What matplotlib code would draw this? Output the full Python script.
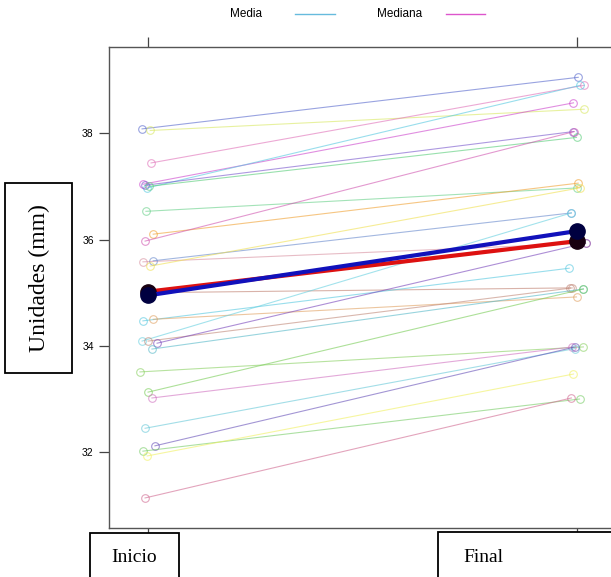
import matplotlib.pyplot as plt
from matplotlib.patches import Rectangle
from matplotlib.lines import Line2D

# ---------------------------------------------------------------------------
# Data (mm)
# ---------------------------------------------------------------------------
momentos = ["Inicio", "Final"]

inicio = [38.08, 38.05, 37.44, 37.04, 36.97, 37.02, 37.00, 36.53, 36.10, 35.97,
          35.58, 35.60, 35.50, 35.00, 34.47, 34.50, 34.09, 34.09, 34.05, 33.94,
          33.51, 33.13, 33.02, 32.45, 32.12, 32.02, 31.93, 31.14]
final = [39.05, 38.45, 38.90, 38.57, 38.90, 38.03, 37.92, 36.97, 37.06, 38.03,
         35.93, 36.50, 36.97, 35.09, 35.46, 34.92, 36.50, 35.09, 35.93, 35.07,
         33.98, 35.07, 33.98, 33.95, 33.98, 33.00, 33.47, 33.02]

# horizontal jitter of the points (fraction of the Inicio-Final distance)
jit_inicio = [-0.014, 0.005, 0.007, -0.012, -0.002, -0.007, 0.002, -0.005, 0.012, -0.007,
              -0.012, 0.012, 0.005, 0.005, -0.012, 0.012, -0.014, 0.0, 0.021, 0.009,
              -0.019, 0.0, 0.009, -0.007, 0.016, -0.012, -0.002, -0.007]
jit_final = [0.002, 0.016, 0.016, -0.009, 0.007, -0.009, -0.002, 0.0, 0.002, -0.007,
             0.019, -0.014, 0.005, -0.016, -0.019, -0.002, -0.014, -0.012, 0.019, 0.014,
             0.014, 0.014, -0.012, -0.005, -0.005, 0.005, -0.009, -0.014]

colores = ["#5566cc", "#d8e860", "#e070b8", "#cc44cc", "#55c8e0", "#7755cc", "#55cc77",
           "#66d088", "#f0a030", "#d055b0", "#d890a0", "#6688cc", "#f0e050", "#c08070",
           "#55c8e0", "#e0a060", "#66d0e0", "#c08878", "#7744bb", "#55b8c8",
           "#88d060", "#77cc55", "#d070c0", "#66c8d8", "#6650b8", "#77cc66", "#f0f060",
           "#d06890"]

media = [34.95, 36.16]
mediana = [35.02, 35.97]

yticks = [32, 34, 36, 38]

# ---------------------------------------------------------------------------
W, H = 611, 577
fig = plt.figure(figsize=(W / 100, H / 100), dpi=100)
ax = fig.add_axes([109 / W, (H - 528) / H, (616 - 109) / W, (528 - 47) / H])

for y0, y1, j0, j1, c in zip(inicio, final, jit_inicio, jit_final, colores):
    ax.plot([0 + j0, 1 + j1], [y0, y1], color=c, lw=0.8, alpha=0.6,
            marker="o", ms=5.5, mfc="none", mew=0.8, zorder=2)

ax.plot([0, 1], mediana, color="#dd1111", lw=3.0, zorder=4,
        marker="o", ms=11, mfc="#180010", mec="#180010")
ax.plot([0, 1], media, color="#1111bb", lw=3.0, zorder=5,
        marker="o", ms=11, mfc="#000040", mec="#000040")

ax.set_xlim(-0.091, 1.09)
ax.set_ylim(30.575, 39.62)
ax.set_yticks(yticks)
ax.set_yticklabels([str(t) for t in yticks], fontsize=7.5, family="Liberation Sans")
ax.set_xticks([0, 1])
ax.set_xticklabels([])
ax.tick_params(axis="both", direction="out", length=7, width=0.9, color="#444444",
               pad=4)
ax.tick_params(axis="x", top=True, bottom=True)
for s in ax.spines.values():
    s.set_color("#555555")
    s.set_linewidth(1.0)

# legend on top
fig.text(262 / W, 1 - 14 / H, "Media", ha="right", va="center", fontsize=8.5,
         family="Liberation Sans")
fig.add_artist(Line2D([295 / W, 335 / W], [1 - 14 / H] * 2, color="#66bbdd", lw=1.0))
fig.text(400 / W, 1 - 14 / H, "Mediana", ha="center", va="center", fontsize=8.5,
         family="Liberation Sans")
fig.add_artist(Line2D([446 / W, 485 / W], [1 - 14 / H] * 2, color="#dd55cc", lw=1.0))

# boxed labels
def caja(x0, y0, x1, y1):
    fig.add_artist(Rectangle((x0 / W, 1 - y1 / H), (x1 - x0) / W, (y1 - y0) / H,
                             transform=fig.transFigure, fill=True, fc="white",
                             ec="black", lw=1.3, clip_on=False))

caja(5, 183, 72, 373)
fig.text(39 / W, 1 - 278 / H, "Unidades (mm)", rotation=90, ha="center", va="center",
         fontsize=17, family="Liberation Serif")

caja(90, 533, 179, 590)
fig.text(134 / W, 1 - 558 / H, momentos[0], ha="center", va="center", fontsize=14,
         family="Liberation Serif")
caja(438, 532, 620, 590)
fig.text(483 / W, 1 - 557 / H, momentos[1], ha="center", va="center", fontsize=14,
         family="Liberation Serif")

fig.savefig("out.png", dpi=100)
